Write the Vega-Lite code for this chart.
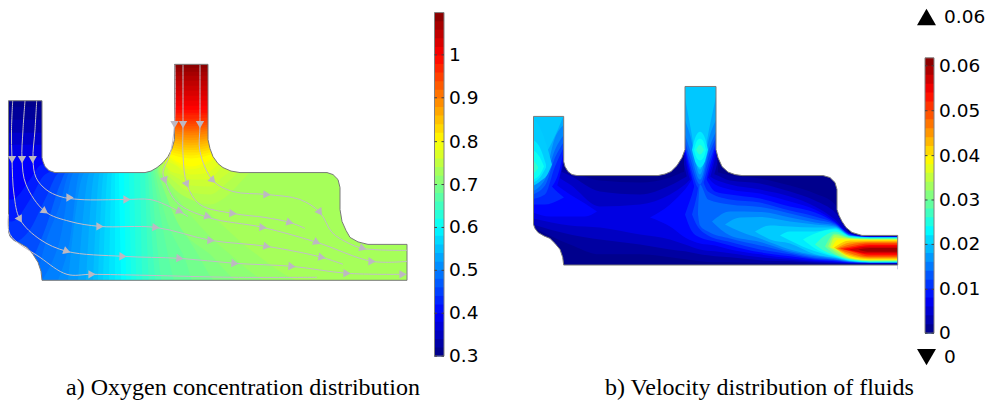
{"$schema":"https://vega.github.io/schema/vega-lite/v6.json","width":991,"height":400,"padding":0,"autosize":{"type":"fit","contains":"padding"},"background":"white","config":{"view":{"stroke":null},"text":{"font":"DejaVu Sans"}},
"datasets":{
"fieldA":[
{"v":0.31,"x":2,"y":60,"y2":292},{"v":0.31,"x":412,"y":60,"y2":292},
{"v":0.32,"x":2,"y":107,"y2":292},{"v":0.32,"x":412,"y":107,"y2":292},
{"v":0.34,"x":2,"y":120,"y2":292},{"v":0.34,"x":412,"y":120,"y2":292},
{"v":0.36,"x":2,"y":133,"y2":292},{"v":0.36,"x":412,"y":133,"y2":292},
{"v":0.38,"x":2,"y":145,"y2":292},{"v":0.38,"x":412,"y":145,"y2":292},
{"v":0.40,"x":2,"y":158,"y2":292},{"v":0.40,"x":412,"y":158,"y2":292},
{"v":0.42,"x":2,"y":200,"y2":292},{"v":0.42,"x":12,"y":200,"y2":292},{"v":0.42,"x":30,"y":180,"y2":292},{"v":0.42,"x":42,"y":165,"y2":292},{"v":0.42,"x":412,"y":165,"y2":292},
{"v":0.44,"x":2,"y":222,"y2":292},{"v":0.44,"x":12,"y":222,"y2":292},{"v":0.44,"x":30,"y":200,"y2":292},{"v":0.44,"x":45,"y":175,"y2":292},{"v":0.44,"x":60,"y":170,"y2":292},{"v":0.44,"x":412,"y":170,"y2":292},
{"v":0.46,"x":2,"y":243,"y2":292},{"v":0.46,"x":12,"y":243,"y2":292},{"v":0.46,"x":30,"y":230,"y2":292},{"v":0.46,"x":45,"y":200,"y2":292},{"v":0.46,"x":60,"y":173,"y2":292},{"v":0.46,"x":412,"y":173,"y2":292},
{"v":0.48,"x":2,"y":265,"y2":292},{"v":0.48,"x":12,"y":265,"y2":292},{"v":0.48,"x":30,"y":260,"y2":292},{"v":0.48,"x":45,"y":230,"y2":292},{"v":0.48,"x":60,"y":185,"y2":292},{"v":0.48,"x":66,"y":173,"y2":292},{"v":0.48,"x":412,"y":173,"y2":292},
{"v":0.49,"x":36,"y":281,"y2":292},{"v":0.49,"x":45,"y":245,"y2":292},{"v":0.49,"x":60,"y":205,"y2":292},{"v":0.49,"x":70,"y":173,"y2":292},{"v":0.49,"x":412,"y":173,"y2":292},
{"v":0.50,"x":42,"y":281,"y2":292},{"v":0.50,"x":60,"y":240,"y2":292},{"v":0.50,"x":74,"y":173,"y2":292},{"v":0.50,"x":412,"y":173,"y2":292},
{"v":0.51,"x":58,"y":281,"y2":292},{"v":0.51,"x":70,"y":240,"y2":292},{"v":0.51,"x":80,"y":173,"y2":292},{"v":0.51,"x":412,"y":173,"y2":292},
{"v":0.52,"x":68,"y":281,"y2":292},{"v":0.52,"x":85,"y":173,"y2":292},{"v":0.52,"x":412,"y":173,"y2":292},
{"v":0.53,"x":78,"y":281,"y2":292},{"v":0.53,"x":90,"y":173,"y2":292},{"v":0.53,"x":412,"y":173,"y2":292},
{"v":0.54,"x":86,"y":281,"y2":292},{"v":0.54,"x":95,"y":173,"y2":292},{"v":0.54,"x":412,"y":173,"y2":292},
{"v":0.55,"x":93,"y":281,"y2":292},{"v":0.55,"x":100,"y":173,"y2":292},{"v":0.55,"x":412,"y":173,"y2":292},
{"v":0.56,"x":98,"y":281,"y2":292},{"v":0.56,"x":104,"y":173,"y2":292},{"v":0.56,"x":412,"y":173,"y2":292},
{"v":0.57,"x":103,"y":281,"y2":292},{"v":0.57,"x":108,"y":173,"y2":292},{"v":0.57,"x":412,"y":173,"y2":292},
{"v":0.58,"x":109,"y":281,"y2":292},{"v":0.58,"x":112,"y":173,"y2":292},{"v":0.58,"x":412,"y":173,"y2":292},
{"v":0.59,"x":115,"y":173,"y2":292},{"v":0.59,"x":412,"y":173,"y2":292},
{"v":0.60,"x":119,"y":135,"y2":173},{"v":0.60,"x":122,"y":135,"y2":292},{"v":0.60,"x":412,"y":135,"y2":292},
{"v":0.61,"x":124,"y":135,"y2":173},{"v":0.61,"x":127,"y":135,"y2":292},{"v":0.61,"x":412,"y":135,"y2":292},
{"v":0.62,"x":129,"y":135,"y2":173},{"v":0.62,"x":132,"y":135,"y2":292},{"v":0.62,"x":412,"y":135,"y2":292},
{"v":0.63,"x":134,"y":135,"y2":173},{"v":0.63,"x":137,"y":135,"y2":292},{"v":0.63,"x":412,"y":135,"y2":292},
{"v":0.64,"x":140,"y":135,"y2":173},{"v":0.64,"x":143,"y":135,"y2":292},{"v":0.64,"x":412,"y":135,"y2":292},
{"v":0.65,"x":145,"y":135,"y2":173},{"v":0.65,"x":150,"y":135,"y2":292},{"v":0.65,"x":412,"y":135,"y2":292},
{"v":0.66,"x":148,"y":135,"y2":173},{"v":0.66,"x":158,"y":135,"y2":292},{"v":0.66,"x":412,"y":135,"y2":292},
{"v":0.67,"x":151,"y":135,"y2":173},{"v":0.67,"x":165,"y":135,"y2":292},{"v":0.67,"x":412,"y":135,"y2":292},
{"v":0.68,"x":153,"y":135,"y2":173},{"v":0.68,"x":162,"y":135,"y2":225},{"v":0.68,"x":180,"y":135,"y2":292},{"v":0.68,"x":412,"y":135,"y2":292},
{"v":0.69,"x":155,"y":135,"y2":173},{"v":0.69,"x":165,"y":135,"y2":215},{"v":0.69,"x":185,"y":135,"y2":260},{"v":0.69,"x":198,"y":135,"y2":292},{"v":0.69,"x":412,"y":135,"y2":292},
{"v":0.70,"x":157,"y":135,"y2":173},{"v":0.70,"x":170,"y":135,"y2":205},{"v":0.70,"x":195,"y":135,"y2":250},{"v":0.70,"x":220,"y":135,"y2":285},{"v":0.70,"x":412,"y":135,"y2":292},
{"v":0.71,"x":158,"y":135,"y2":173},{"v":0.71,"x":177,"y":135,"y2":222},{"v":0.71,"x":210,"y":135,"y2":255},{"v":0.71,"x":245,"y":135,"y2":285},{"v":0.71,"x":412,"y":135,"y2":292},
{"v":0.72,"x":159,"y":135,"y2":173},{"v":0.72,"x":190,"y":135,"y2":215},{"v":0.72,"x":230,"y":135,"y2":255},{"v":0.72,"x":275,"y":135,"y2":285},{"v":0.72,"x":412,"y":135,"y2":292},
{"v":0.73,"x":160,"y":135,"y2":173},{"v":0.73,"x":200,"y":135,"y2":205},{"v":0.73,"x":250,"y":135,"y2":250},{"v":0.73,"x":310,"y":135,"y2":285},{"v":0.73,"x":412,"y":135,"y2":292},
{"v":0.74,"x":162,"y":60,"y2":173},{"v":0.74,"x":175,"y":60,"y2":190},{"v":0.74,"x":191,"y":60,"y2":200},{"v":0.74,"x":210,"y":60,"y2":205},{"v":0.74,"x":225,"y":60,"y2":198},{"v":0.74,"x":245,"y":60,"y2":178},{"v":0.74,"x":250,"y":60,"y2":173},
{"v":0.75,"x":165,"y":60,"y2":173},{"v":0.75,"x":178,"y":60,"y2":185},{"v":0.75,"x":191,"y":60,"y2":193},{"v":0.75,"x":210,"y":60,"y2":195},{"v":0.75,"x":225,"y":60,"y2":185},{"v":0.75,"x":238,"y":60,"y2":173},
{"v":0.76,"x":168,"y":60,"y2":173},{"v":0.76,"x":180,"y":60,"y2":180},{"v":0.76,"x":191,"y":60,"y2":186},{"v":0.76,"x":210,"y":60,"y2":187},{"v":0.76,"x":222,"y":60,"y2":178},{"v":0.76,"x":229,"y":60,"y2":173},
{"v":0.77,"x":165,"y":60,"y2":165},{"v":0.77,"x":171,"y":60,"y2":172},{"v":0.77,"x":181,"y":60,"y2":175},{"v":0.77,"x":191,"y":60,"y2":180},{"v":0.77,"x":205,"y":60,"y2":180},{"v":0.77,"x":218,"y":60,"y2":172},{"v":0.77,"x":222,"y":60,"y2":165},
{"v":0.78,"x":168,"y":60,"y2":162},{"v":0.78,"x":174,"y":60,"y2":165},{"v":0.78,"x":191,"y":60,"y2":175},{"v":0.78,"x":205,"y":60,"y2":174},{"v":0.78,"x":218,"y":60,"y2":165},
{"v":0.79,"x":168,"y":60,"y2":158},{"v":0.79,"x":191,"y":60,"y2":170},{"v":0.79,"x":214,"y":60,"y2":160},
{"v":0.80,"x":168,"y":60,"y2":156},{"v":0.80,"x":191,"y":60,"y2":167},{"v":0.80,"x":214,"y":60,"y2":158},
{"v":0.81,"x":168,"y":60,"y2":154},{"v":0.81,"x":191,"y":60,"y2":159},{"v":0.81,"x":214,"y":60,"y2":154},
{"v":0.82,"x":168,"y":60,"y2":151.5},{"v":0.82,"x":191,"y":60,"y2":156},{"v":0.82,"x":214,"y":60,"y2":151.5},
{"v":0.83,"x":168,"y":60,"y2":149},{"v":0.83,"x":191,"y":60,"y2":153},{"v":0.83,"x":214,"y":60,"y2":149},
{"v":0.84,"x":168,"y":60,"y2":146.5},{"v":0.84,"x":191,"y":60,"y2":150.5},{"v":0.84,"x":214,"y":60,"y2":146.5},
{"v":0.85,"x":168,"y":60,"y2":144},{"v":0.85,"x":191,"y":60,"y2":148},{"v":0.85,"x":214,"y":60,"y2":144},
{"v":0.86,"x":168,"y":60,"y2":141.5},{"v":0.86,"x":191,"y":60,"y2":145.5},{"v":0.86,"x":214,"y":60,"y2":141.5},
{"v":0.87,"x":168,"y":60,"y2":139},{"v":0.87,"x":191,"y":60,"y2":143},{"v":0.87,"x":214,"y":60,"y2":139},
{"v":0.88,"x":168,"y":60,"y2":137},{"v":0.88,"x":191,"y":60,"y2":140.5},{"v":0.88,"x":214,"y":60,"y2":137},
{"v":0.89,"x":168,"y":60,"y2":135},{"v":0.89,"x":191,"y":60,"y2":138},{"v":0.89,"x":214,"y":60,"y2":135},
{"v":0.90,"x":168,"y":60,"y2":132.5},{"v":0.90,"x":191,"y":60,"y2":135.5},{"v":0.90,"x":214,"y":60,"y2":132.5},
{"v":0.91,"x":168,"y":60,"y2":130},{"v":0.91,"x":191,"y":60,"y2":133},{"v":0.91,"x":214,"y":60,"y2":130},
{"v":0.92,"x":168,"y":60,"y2":128},{"v":0.92,"x":191,"y":60,"y2":131},{"v":0.92,"x":214,"y":60,"y2":128},
{"v":0.93,"x":168,"y":60,"y2":126},{"v":0.93,"x":191,"y":60,"y2":129},{"v":0.93,"x":214,"y":60,"y2":126},
{"v":0.94,"x":168,"y":60,"y2":124},{"v":0.94,"x":191,"y":60,"y2":126.5},{"v":0.94,"x":214,"y":60,"y2":124},
{"v":0.95,"x":168,"y":60,"y2":122},{"v":0.95,"x":191,"y":60,"y2":124},{"v":0.95,"x":214,"y":60,"y2":122},
{"v":0.96,"x":168,"y":60,"y2":119.5},{"v":0.96,"x":191,"y":60,"y2":121.5},{"v":0.96,"x":214,"y":60,"y2":119.5},
{"v":0.97,"x":168,"y":60,"y2":117},{"v":0.97,"x":191,"y":60,"y2":119},{"v":0.97,"x":214,"y":60,"y2":117},
{"v":0.98,"x":168,"y":60,"y2":115},{"v":0.98,"x":214,"y":60,"y2":115},
{"v":0.99,"x":168,"y":60,"y2":113},{"v":0.99,"x":214,"y":60,"y2":113},
{"v":0.9995,"x":168,"y":60,"y2":110},{"v":0.9995,"x":214,"y":60,"y2":110},
{"v":1.01,"x":168,"y":60,"y2":106},{"v":1.01,"x":214,"y":60,"y2":106},
{"v":1.02,"x":168,"y":60,"y2":101},{"v":1.02,"x":214,"y":60,"y2":101},
{"v":1.03,"x":168,"y":60,"y2":96},{"v":1.03,"x":214,"y":60,"y2":96},
{"v":1.04,"x":168,"y":60,"y2":91},{"v":1.04,"x":214,"y":60,"y2":91},
{"v":1.05,"x":168,"y":60,"y2":86},{"v":1.05,"x":214,"y":60,"y2":86},
{"v":1.06,"x":168,"y":60,"y2":81},{"v":1.06,"x":214,"y":60,"y2":81},
{"v":1.07,"x":168,"y":60,"y2":76},{"v":1.07,"x":214,"y":60,"y2":76},
{"v":1.08,"x":168,"y":60,"y2":72},{"v":1.08,"x":214,"y":60,"y2":72},
{"v":1.09,"x":168,"y":60,"y2":68},{"v":1.09,"x":214,"y":60,"y2":68}
],
"fieldB":[
{"v":0.0008,"x":525,"y":80,"y2":270},{"v":0.0008,"x":905,"y":80,"y2":270},
{"v":0.0019,"x":530,"y":110,"y2":200},{"v":0.0019,"x":555,"y":110,"y2":190},{"v":0.0019,"x":564,"y":110,"y2":168},
{"v":0.00191,"x":684,"y":80,"y2":178},{"v":0.00191,"x":718,"y":80,"y2":178},
{"v":0.002,"x":533,"y":160,"y2":228},{"v":0.002,"x":570,"y":172,"y2":245},{"v":0.002,"x":600,"y":181,"y2":255},{"v":0.002,"x":640,"y":183,"y2":255},{"v":0.002,"x":670,"y":178,"y2":258},{"v":0.002,"x":685,"y":172,"y2":260},{"v":0.002,"x":700,"y":170,"y2":262},{"v":0.002,"x":715,"y":172,"y2":263},{"v":0.002,"x":730,"y":176,"y2":263},{"v":0.002,"x":760,"y":179,"y2":264},{"v":0.002,"x":790,"y":186,"y2":264},{"v":0.002,"x":815,"y":194,"y2":264.5},{"v":0.002,"x":835,"y":205,"y2":264.7},{"v":0.002,"x":850,"y":233,"y2":264.7},{"v":0.002,"x":870,"y":236.5,"y2":264.8},{"v":0.002,"x":898,"y":236.5,"y2":264.8},
{"v":0.0039,"x":530,"y":110,"y2":200},{"v":0.0039,"x":555,"y":110,"y2":190},{"v":0.0039,"x":564,"y":110,"y2":162},
{"v":0.00391,"x":684,"y":80,"y2":165},{"v":0.00391,"x":690,"y":80,"y2":185},{"v":0.00391,"x":700,"y":80,"y2":190},{"v":0.00391,"x":710,"y":80,"y2":185},{"v":0.00391,"x":717,"y":80,"y2":165},
{"v":0.004,"x":533,"y":162,"y2":225},{"v":0.004,"x":570,"y":176,"y2":235},{"v":0.004,"x":600,"y":192,"y2":240},{"v":0.004,"x":640,"y":195,"y2":245},{"v":0.004,"x":670,"y":186,"y2":250},{"v":0.004,"x":685,"y":178,"y2":252},{"v":0.004,"x":700,"y":170,"y2":255},{"v":0.004,"x":715,"y":175,"y2":257},{"v":0.004,"x":730,"y":181,"y2":258},{"v":0.004,"x":760,"y":184,"y2":261},{"v":0.004,"x":790,"y":192,"y2":262},{"v":0.004,"x":815,"y":201,"y2":263.5},{"v":0.004,"x":835,"y":213,"y2":264},{"v":0.004,"x":850,"y":233.5,"y2":264.3},{"v":0.004,"x":870,"y":237,"y2":264.4},{"v":0.004,"x":898,"y":237,"y2":264.4},
{"v":0.0059,"x":530,"y":110,"y2":200},{"v":0.0059,"x":555,"y":110,"y2":190},{"v":0.0059,"x":564,"y":110,"y2":158},
{"v":0.00591,"x":684,"y":80,"y2":152},{"v":0.00591,"x":690,"y":80,"y2":180},{"v":0.00591,"x":700,"y":80,"y2":192},{"v":0.00591,"x":710,"y":80,"y2":178},{"v":0.00591,"x":717,"y":80,"y2":150},
{"v":0.006,"x":533,"y":164,"y2":219},{"v":0.006,"x":570,"y":185,"y2":226},{"v":0.006,"x":600,"y":207,"y2":228},{"v":0.006,"x":640,"y":205,"y2":235},{"v":0.006,"x":670,"y":195,"y2":240},{"v":0.006,"x":685,"y":185,"y2":245},{"v":0.006,"x":700,"y":172,"y2":250},{"v":0.006,"x":715,"y":180,"y2":252},{"v":0.006,"x":730,"y":185,"y2":254},{"v":0.006,"x":760,"y":190,"y2":258},{"v":0.006,"x":790,"y":197,"y2":260.5},{"v":0.006,"x":815,"y":207,"y2":262.5},{"v":0.006,"x":835,"y":220,"y2":263.4},{"v":0.006,"x":850,"y":234,"y2":263.6},{"v":0.006,"x":870,"y":237.2,"y2":263.8},{"v":0.006,"x":898,"y":237.2,"y2":263.8},
{"v":0.0079,"x":530,"y":110,"y2":200},{"v":0.0079,"x":555,"y":110,"y2":190},{"v":0.0079,"x":564,"y":110,"y2":155},
{"v":0.00791,"x":684,"y":80,"y2":148},{"v":0.00791,"x":690,"y":80,"y2":175},{"v":0.00791,"x":700,"y":80,"y2":195},{"v":0.00791,"x":710,"y":80,"y2":172},{"v":0.00791,"x":717,"y":80,"y2":145},
{"v":0.008,"x":533,"y":165,"y2":213},{"v":0.008,"x":550,"y":180,"y2":217},{"v":0.008,"x":570,"y":195,"y2":217},{"v":0.008,"x":585,"y":204,"y2":217},{"v":0.008,"x":597,"y":212,"y2":212},
{"v":0.00801,"x":650,"y":218,"y2":218},{"v":0.00801,"x":670,"y":205,"y2":227},{"v":0.00801,"x":685,"y":190,"y2":238},{"v":0.00801,"x":700,"y":172,"y2":244},{"v":0.00801,"x":715,"y":185,"y2":246},{"v":0.00801,"x":730,"y":190,"y2":250},{"v":0.00801,"x":760,"y":194,"y2":255},{"v":0.00801,"x":790,"y":202,"y2":259},{"v":0.00801,"x":815,"y":210,"y2":261.5},{"v":0.00801,"x":835,"y":222,"y2":262.5},{"v":0.00801,"x":850,"y":234.5,"y2":263.6},{"v":0.00801,"x":870,"y":237.3,"y2":263.7},{"v":0.00801,"x":898,"y":237.3,"y2":263.7},
{"v":0.0099,"x":530,"y":110,"y2":205},{"v":0.0099,"x":550,"y":110,"y2":190},{"v":0.0099,"x":558,"y":110,"y2":175},{"v":0.0099,"x":564,"y":110,"y2":150},
{"v":0.00991,"x":684,"y":80,"y2":145},{"v":0.00991,"x":690,"y":80,"y2":170},{"v":0.00991,"x":700,"y":80,"y2":200},{"v":0.00991,"x":710,"y":80,"y2":166},{"v":0.00991,"x":717,"y":80,"y2":142},
{"v":0.01,"x":533,"y":170,"y2":205},{"v":0.01,"x":545,"y":180,"y2":205},{"v":0.01,"x":558,"y":193,"y2":201},{"v":0.01,"x":564,"y":198,"y2":198},
{"v":0.01001,"x":685,"y":215,"y2":215},{"v":0.01001,"x":692,"y":195,"y2":232},{"v":0.01001,"x":700,"y":173,"y2":238},{"v":0.01001,"x":715,"y":192,"y2":242},{"v":0.01001,"x":730,"y":195,"y2":246},{"v":0.01001,"x":760,"y":199,"y2":253},{"v":0.01001,"x":790,"y":207,"y2":257},{"v":0.01001,"x":815,"y":213,"y2":260.5},{"v":0.01001,"x":835,"y":223,"y2":262},{"v":0.01001,"x":850,"y":235,"y2":263.2},{"v":0.01001,"x":870,"y":237.5,"y2":263.5},{"v":0.01001,"x":898,"y":237.5,"y2":263.5},
{"v":0.0119,"x":530,"y":110,"y2":200},{"v":0.0119,"x":545,"y":110,"y2":195},{"v":0.0119,"x":555,"y":110,"y2":167},{"v":0.0119,"x":564,"y":110,"y2":147},
{"v":0.01191,"x":684,"y":80,"y2":142},{"v":0.01191,"x":690,"y":80,"y2":165},{"v":0.01191,"x":700,"y":80,"y2":190},{"v":0.01191,"x":710,"y":80,"y2":160},{"v":0.01191,"x":717,"y":80,"y2":140},
{"v":0.012,"x":692,"y":215,"y2":215},{"v":0.012,"x":697,"y":195,"y2":226},{"v":0.012,"x":700,"y":178,"y2":230},{"v":0.012,"x":708,"y":192,"y2":236},{"v":0.012,"x":730,"y":200,"y2":242.5},{"v":0.012,"x":760,"y":203,"y2":250},{"v":0.012,"x":790,"y":211,"y2":255},{"v":0.012,"x":815,"y":217,"y2":259.5},{"v":0.012,"x":835,"y":224,"y2":261},{"v":0.012,"x":850,"y":235,"y2":263},{"v":0.012,"x":870,"y":237.6,"y2":263.4},{"v":0.012,"x":898,"y":237.6,"y2":263.4},
{"v":0.0139,"x":530,"y":110,"y2":196},{"v":0.0139,"x":545,"y":110,"y2":186},{"v":0.0139,"x":555,"y":110,"y2":158},{"v":0.0139,"x":564,"y":110,"y2":142},
{"v":0.01391,"x":684,"y":80,"y2":138},{"v":0.01391,"x":690,"y":80,"y2":158},{"v":0.01391,"x":700,"y":80,"y2":185},{"v":0.01391,"x":710,"y":80,"y2":152},{"v":0.01391,"x":717,"y":80,"y2":136},
{"v":0.014,"x":698,"y":215,"y2":215},{"v":0.014,"x":700,"y":185,"y2":226},{"v":0.014,"x":708,"y":200,"y2":232},{"v":0.014,"x":730,"y":205,"y2":239},{"v":0.014,"x":760,"y":207.5,"y2":246},{"v":0.014,"x":790,"y":214,"y2":253.5},{"v":0.014,"x":815,"y":220,"y2":258.5},{"v":0.014,"x":835,"y":225,"y2":260.5},{"v":0.014,"x":850,"y":235.5,"y2":262.7},{"v":0.014,"x":870,"y":237.7,"y2":263.2},{"v":0.014,"x":898,"y":237.7,"y2":263.2},
{"v":0.0159,"x":530,"y":110,"y2":193},{"v":0.0159,"x":545,"y":110,"y2":180},{"v":0.0159,"x":555,"y":110,"y2":150},{"v":0.0159,"x":564,"y":110,"y2":135},
{"v":0.01591,"x":684,"y":80,"y2":132},{"v":0.01591,"x":690,"y":80,"y2":150},{"v":0.01591,"x":700,"y":80,"y2":180},{"v":0.01591,"x":710,"y":80,"y2":146},{"v":0.01591,"x":717,"y":80,"y2":130},
{"v":0.016,"x":712,"y":222,"y2":222},{"v":0.016,"x":730,"y":212,"y2":236},{"v":0.016,"x":760,"y":212.5,"y2":242.5},{"v":0.016,"x":790,"y":218,"y2":252},{"v":0.016,"x":815,"y":223,"y2":257},{"v":0.016,"x":835,"y":226,"y2":260},{"v":0.016,"x":850,"y":236,"y2":262.3},{"v":0.016,"x":870,"y":237.8,"y2":263.2},{"v":0.016,"x":898,"y":237.8,"y2":263.2},
{"v":0.0179,"x":530,"y":110,"y2":188},{"v":0.0179,"x":545,"y":110,"y2":175},{"v":0.0179,"x":555,"y":110,"y2":138},{"v":0.0179,"x":564,"y":110,"y2":125},
{"v":0.01791,"x":684,"y":80,"y2":118},{"v":0.01791,"x":690,"y":80,"y2":135},{"v":0.01791,"x":700,"y":80,"y2":175},{"v":0.01791,"x":710,"y":80,"y2":135},{"v":0.01791,"x":717,"y":80,"y2":118},
{"v":0.018,"x":725,"y":225,"y2":225},{"v":0.018,"x":740,"y":218,"y2":232},{"v":0.018,"x":760,"y":217.5,"y2":239},{"v":0.018,"x":790,"y":222,"y2":250},{"v":0.018,"x":815,"y":225,"y2":256},{"v":0.018,"x":835,"y":227,"y2":259},{"v":0.018,"x":850,"y":236.3,"y2":262},{"v":0.018,"x":870,"y":238,"y2":263},{"v":0.018,"x":898,"y":238,"y2":263},
{"v":0.0198,"x":530,"y":110,"y2":170},{"v":0.0198,"x":548,"y":110,"y2":150},{"v":0.0198,"x":564,"y":110,"y2":115},
{"v":0.01981,"x":684,"y":80,"y2":92},{"v":0.01981,"x":690,"y":80,"y2":125},{"v":0.01981,"x":700,"y":80,"y2":170},{"v":0.01981,"x":710,"y":80,"y2":125},{"v":0.01981,"x":717,"y":80,"y2":92},
{"v":0.02,"x":755,"y":232,"y2":232},{"v":0.02,"x":770,"y":226,"y2":240},{"v":0.02,"x":790,"y":227,"y2":244},{"v":0.02,"x":815,"y":228,"y2":255},{"v":0.02,"x":835,"y":228,"y2":258.5},{"v":0.02,"x":850,"y":236.5,"y2":261.7},{"v":0.02,"x":870,"y":238,"y2":263},{"v":0.02,"x":898,"y":238,"y2":263},
{"v":0.0201,"x":533,"y":118,"y2":186},{"v":0.0201,"x":540,"y":128,"y2":182},{"v":0.0201,"x":548,"y":150,"y2":174},{"v":0.0201,"x":552,"y":165,"y2":165},
{"v":0.0219,"x":533,"y":140,"y2":183},{"v":0.0219,"x":540,"y":148,"y2":178},{"v":0.0219,"x":546,"y":165,"y2":168},
{"v":0.02191,"x":692,"y":150,"y2":150},{"v":0.02191,"x":696,"y":136,"y2":164},{"v":0.02191,"x":700,"y":132,"y2":168},{"v":0.02191,"x":704,"y":136,"y2":164},{"v":0.02191,"x":708,"y":150,"y2":150},
{"v":0.022,"x":780,"y":236,"y2":236},{"v":0.022,"x":790,"y":232,"y2":241},{"v":0.022,"x":815,"y":232,"y2":252},{"v":0.022,"x":835,"y":229,"y2":257.7},{"v":0.022,"x":850,"y":236.8,"y2":261.3},{"v":0.022,"x":870,"y":238.2,"y2":262.8},{"v":0.022,"x":898,"y":238.2,"y2":262.8},
{"v":0.0239,"x":533,"y":150,"y2":180},{"v":0.0239,"x":540,"y":158,"y2":175},{"v":0.0239,"x":544,"y":167,"y2":167},
{"v":0.02391,"x":694,"y":150,"y2":150},{"v":0.02391,"x":697,"y":141,"y2":159},{"v":0.02391,"x":700,"y":139,"y2":161},{"v":0.02391,"x":703,"y":141,"y2":159},{"v":0.02391,"x":706,"y":150,"y2":150},
{"v":0.024,"x":803,"y":240,"y2":240},{"v":0.024,"x":815,"y":234,"y2":249},{"v":0.024,"x":835,"y":230,"y2":257},{"v":0.024,"x":850,"y":237,"y2":261},{"v":0.024,"x":870,"y":238.5,"y2":262.5},{"v":0.024,"x":898,"y":238.5,"y2":262.5},
{"v":0.026,"x":533,"y":160,"y2":175},{"v":0.026,"x":538,"y":167,"y2":169},
{"v":0.02601,"x":696,"y":150,"y2":150},{"v":0.02601,"x":700,"y":145,"y2":155},{"v":0.02601,"x":704,"y":150,"y2":150},
{"v":0.027,"x":815,"y":245,"y2":245},{"v":0.027,"x":825,"y":236,"y2":252},{"v":0.027,"x":835,"y":232,"y2":256},{"v":0.027,"x":850,"y":237.5,"y2":260.5},{"v":0.027,"x":870,"y":238.8,"y2":262.2},{"v":0.027,"x":898,"y":238.8,"y2":262.2},
{"v":0.03,"x":825,"y":247,"y2":247},{"v":0.03,"x":835,"y":234,"y2":255},{"v":0.03,"x":850,"y":238.3,"y2":260},{"v":0.03,"x":870,"y":239.2,"y2":261.8},{"v":0.03,"x":898,"y":239.2,"y2":261.8},
{"v":0.033,"x":828,"y":247,"y2":247},{"v":0.033,"x":835,"y":235.5,"y2":252.5},{"v":0.033,"x":850,"y":238.8,"y2":259.5},{"v":0.033,"x":870,"y":239.6,"y2":261.4},{"v":0.033,"x":898,"y":239.6,"y2":261.4},
{"v":0.036,"x":830,"y":248,"y2":248},{"v":0.036,"x":835,"y":238,"y2":250},{"v":0.036,"x":850,"y":239.3,"y2":258.8},{"v":0.036,"x":870,"y":240,"y2":261},{"v":0.036,"x":898,"y":240,"y2":261},
{"v":0.039,"x":832,"y":248,"y2":248},{"v":0.039,"x":838,"y":240,"y2":250},{"v":0.039,"x":850,"y":240,"y2":258.3},{"v":0.039,"x":870,"y":240.6,"y2":260.4},{"v":0.039,"x":898,"y":240.6,"y2":260.4},
{"v":0.042,"x":834,"y":248,"y2":248},{"v":0.042,"x":850,"y":241,"y2":257},{"v":0.042,"x":870,"y":241,"y2":260},{"v":0.042,"x":898,"y":241,"y2":260},
{"v":0.045,"x":836,"y":249,"y2":249},{"v":0.045,"x":850,"y":243,"y2":255.5},{"v":0.045,"x":870,"y":242,"y2":259},{"v":0.045,"x":898,"y":242,"y2":259},
{"v":0.048,"x":838,"y":249,"y2":249},{"v":0.048,"x":850,"y":245,"y2":254},{"v":0.048,"x":870,"y":243,"y2":258},{"v":0.048,"x":898,"y":243,"y2":258},
{"v":0.051,"x":840,"y":249,"y2":249},{"v":0.051,"x":850,"y":247,"y2":252},{"v":0.051,"x":870,"y":244,"y2":257},{"v":0.051,"x":898,"y":244,"y2":257},
{"v":0.054,"x":843,"y":249.5,"y2":249.5},{"v":0.054,"x":855,"y":247.5,"y2":252.5},{"v":0.054,"x":870,"y":245.5,"y2":255.5},{"v":0.054,"x":898,"y":245.5,"y2":255.5},
{"v":0.057,"x":849,"y":250,"y2":250},{"v":0.057,"x":870,"y":247,"y2":254},{"v":0.057,"x":898,"y":247,"y2":254},
{"v":0.06,"x":858,"y":250,"y2":250},{"v":0.06,"x":870,"y":248.5,"y2":252.5},{"v":0.06,"x":898,"y":248.5,"y2":252.5}
],
"mask":[
{"s":"at","x":0,"y":50,"y2":296},{"s":"at","x":8.49,"y":50,"y2":296},{"s":"at","x":8.5,"y":50,"y2":101},{"s":"at","x":42,"y":50,"y2":101},{"s":"at","x":42.01,"y":50,"y2":158},{"s":"at","x":43,"y":50,"y2":162},{"s":"at","x":45,"y":50,"y2":167},{"s":"at","x":49,"y":50,"y2":171},{"s":"at","x":55,"y":50,"y2":173},{"s":"at","x":145,"y":50,"y2":173},{"s":"at","x":151,"y":50,"y2":171.5},{"s":"at","x":157,"y":50,"y2":168},{"s":"at","x":163,"y":50,"y2":163},{"s":"at","x":168,"y":50,"y2":157},{"s":"at","x":172,"y":50,"y2":149},{"s":"at","x":174.5,"y":50,"y2":140},{"s":"at","x":174.51,"y":50,"y2":64.5},{"s":"at","x":208,"y":50,"y2":64.5},{"s":"at","x":208.01,"y":50,"y2":140},{"s":"at","x":210,"y":50,"y2":149},{"s":"at","x":213,"y":50,"y2":157},{"s":"at","x":218,"y":50,"y2":164},{"s":"at","x":223,"y":50,"y2":168},{"s":"at","x":231,"y":50,"y2":171.5},{"s":"at","x":240,"y":50,"y2":173},{"s":"at","x":327,"y":50,"y2":173},{"s":"at","x":333,"y":50,"y2":175},{"s":"at","x":338,"y":50,"y2":180},{"s":"at","x":340,"y":50,"y2":188},{"s":"at","x":340.01,"y":50,"y2":210},{"s":"at","x":342,"y":50,"y2":222},{"s":"at","x":346,"y":50,"y2":231},{"s":"at","x":350,"y":50,"y2":238},{"s":"at","x":358,"y":50,"y2":242.5},{"s":"at","x":368,"y":50,"y2":245},{"s":"at","x":407,"y":50,"y2":245},{"s":"at","x":407.01,"y":50,"y2":296},{"s":"at","x":416,"y":50,"y2":296},
{"s":"ab","x":8,"y":232,"y2":296},{"s":"ab","x":8.5,"y":232,"y2":296},{"s":"ab","x":10,"y":237,"y2":296},{"s":"ab","x":14,"y":241,"y2":296},{"s":"ab","x":20,"y":244,"y2":296},{"s":"ab","x":27,"y":248,"y2":296},{"s":"ab","x":33,"y":255,"y2":296},{"s":"ab","x":38,"y":263,"y2":296},{"s":"ab","x":41,"y":272,"y2":296},{"s":"ab","x":42,"y":281,"y2":296},{"s":"ab","x":407,"y":281,"y2":296},
{"s":"bt","x":520,"y":70,"y2":285},{"s":"bt","x":533.49,"y":70,"y2":285},{"s":"bt","x":533.5,"y":70,"y2":116.7},{"s":"bt","x":563.7,"y":70,"y2":116.7},{"s":"bt","x":563.71,"y":70,"y2":162},{"s":"bt","x":565,"y":70,"y2":167},{"s":"bt","x":568,"y":70,"y2":172},{"s":"bt","x":572,"y":70,"y2":175},{"s":"bt","x":577,"y":70,"y2":176},{"s":"bt","x":658,"y":70,"y2":176},{"s":"bt","x":665,"y":70,"y2":174.5},{"s":"bt","x":671,"y":70,"y2":172},{"s":"bt","x":677,"y":70,"y2":166},{"s":"bt","x":682,"y":70,"y2":158},{"s":"bt","x":685,"y":70,"y2":150},{"s":"bt","x":685.01,"y":70,"y2":86.7},{"s":"bt","x":716,"y":70,"y2":86.7},{"s":"bt","x":716.01,"y":70,"y2":150},{"s":"bt","x":718,"y":70,"y2":158},{"s":"bt","x":722,"y":70,"y2":167},{"s":"bt","x":728,"y":70,"y2":172.5},{"s":"bt","x":735,"y":70,"y2":175},{"s":"bt","x":742,"y":70,"y2":176},{"s":"bt","x":823,"y":70,"y2":176},{"s":"bt","x":830,"y":70,"y2":178},{"s":"bt","x":835,"y":70,"y2":183},{"s":"bt","x":837,"y":70,"y2":190},{"s":"bt","x":837.01,"y":70,"y2":210},{"s":"bt","x":839,"y":70,"y2":216},{"s":"bt","x":842,"y":70,"y2":222},{"s":"bt","x":846,"y":70,"y2":228},{"s":"bt","x":852,"y":70,"y2":233},{"s":"bt","x":862,"y":70,"y2":236},{"s":"bt","x":897.7,"y":70,"y2":236},{"s":"bt","x":897.71,"y":70,"y2":285},{"s":"bt","x":908,"y":70,"y2":285},
{"s":"bb","x":533,"y":225,"y2":285},{"s":"bb","x":533.5,"y":225,"y2":285},{"s":"bb","x":535,"y":229,"y2":285},{"s":"bb","x":538,"y":233,"y2":285},{"s":"bb","x":544,"y":236.5,"y2":285},{"s":"bb","x":550,"y":239,"y2":285},{"s":"bb","x":555,"y":244,"y2":285},{"s":"bb","x":560,"y":250,"y2":285},{"s":"bb","x":562.7,"y":258,"y2":285},{"s":"bb","x":563.7,"y":265.7,"y2":285},{"s":"bb","x":897.7,"y":265.7,"y2":285}
],
"walls":[{"x":8.5,"y":101,"y2":232},{"x":407,"y":245,"y2":281},{"x":533.5,"y":116.7,"y2":225},{"x":897.7,"y":236,"y2":265.7}],
"stream":[
{"s":1,"i":1,"x":36.7,"y":101},{"s":1,"i":2,"x":35,"y":130},{"s":1,"i":3,"x":33,"y":160},{"s":1,"i":4,"x":36,"y":178},{"s":1,"i":5,"x":46,"y":190},{"s":1,"i":6,"x":60,"y":197},{"s":1,"i":7,"x":80,"y":200},{"s":1,"i":8,"x":125,"y":200},{"s":1,"i":9,"x":150,"y":200},{"s":1,"i":10,"x":165,"y":205},{"s":1,"i":11,"x":188,"y":217},
{"s":2,"i":1,"x":25,"y":101},{"s":2,"i":2,"x":23,"y":130},{"s":2,"i":3,"x":22,"y":160},{"s":2,"i":4,"x":26,"y":185},{"s":2,"i":5,"x":45,"y":212},{"s":2,"i":6,"x":70,"y":222},{"s":2,"i":7,"x":100,"y":227},{"s":2,"i":8,"x":156,"y":228},{"s":2,"i":9,"x":211,"y":241},{"s":2,"i":10,"x":267,"y":247},{"s":2,"i":11,"x":322,"y":258},{"s":2,"i":12,"x":343,"y":265},
{"s":3,"i":1,"x":12.7,"y":101},{"s":3,"i":2,"x":11.5,"y":130},{"s":3,"i":3,"x":12,"y":160},{"s":3,"i":4,"x":14,"y":195},{"s":3,"i":5,"x":20,"y":220},{"s":3,"i":6,"x":40,"y":240},{"s":3,"i":7,"x":67,"y":252},{"s":3,"i":8,"x":123,"y":257},{"s":3,"i":9,"x":180,"y":259},{"s":3,"i":10,"x":235,"y":264},{"s":3,"i":11,"x":292,"y":267},{"s":3,"i":12,"x":347,"y":274},{"s":3,"i":13,"x":403,"y":275},
{"s":4,"i":1,"x":8.5,"y":215},{"s":4,"i":2,"x":10,"y":235},{"s":4,"i":3,"x":40,"y":258},{"s":4,"i":4,"x":67,"y":275},{"s":4,"i":5,"x":92,"y":275},{"s":4,"i":6,"x":147,"y":276},{"s":4,"i":7,"x":233,"y":278},{"s":4,"i":8,"x":317,"y":278},
{"s":5,"i":1,"x":183,"y":65},{"s":5,"i":2,"x":183,"y":125},{"s":5,"i":3,"x":183,"y":155},{"s":5,"i":4,"x":187,"y":185},{"s":5,"i":5,"x":200,"y":205},{"s":5,"i":6,"x":233,"y":214},{"s":5,"i":7,"x":265,"y":218},{"s":5,"i":8,"x":290,"y":223},{"s":5,"i":9,"x":305,"y":229},
{"s":6,"i":1,"x":200,"y":65},{"s":6,"i":2,"x":200,"y":125},{"s":6,"i":3,"x":200,"y":152},{"s":6,"i":4,"x":213,"y":181},{"s":6,"i":5,"x":233,"y":192},{"s":6,"i":6,"x":267,"y":195},{"s":6,"i":7,"x":300,"y":200},{"s":6,"i":8,"x":320,"y":213},{"s":6,"i":9,"x":332,"y":233},{"s":6,"i":10,"x":347,"y":243},{"s":6,"i":11,"x":363,"y":249},{"s":6,"i":12,"x":407,"y":251},
{"s":7,"i":1,"x":175,"y":65},{"s":7,"i":2,"x":174.5,"y":125},{"s":7,"i":3,"x":170,"y":155},{"s":7,"i":4,"x":163,"y":172},{"s":7,"i":5,"x":165,"y":181},{"s":7,"i":6,"x":177,"y":203},{"s":7,"i":7,"x":208,"y":218},{"s":7,"i":8,"x":263,"y":228},{"s":7,"i":9,"x":317,"y":243},{"s":7,"i":10,"x":372,"y":262},{"s":7,"i":11,"x":407,"y":262}
],
"arrows":[
{"x":32.7,"y":160,"a":180},{"x":70,"y":198,"a":90},{"x":127,"y":200,"a":90},{"x":180,"y":212,"a":115},
{"x":22,"y":160,"a":180},{"x":45,"y":212,"a":125},{"x":100,"y":227,"a":90},{"x":156,"y":228,"a":95},{"x":211,"y":241,"a":95},{"x":267,"y":247,"a":100},{"x":322,"y":258,"a":100},
{"x":12,"y":160,"a":180},{"x":20,"y":220,"a":150},{"x":67,"y":252,"a":110},{"x":123,"y":257,"a":92},{"x":180,"y":259,"a":95},{"x":235,"y":264,"a":95},{"x":292,"y":267,"a":95},{"x":347,"y":274,"a":92},{"x":403,"y":275,"a":90},
{"x":92,"y":275,"a":90},{"x":183,"y":125,"a":180},{"x":187,"y":185,"a":155},{"x":208,"y":217,"a":105},{"x":233,"y":214,"a":95},{"x":290,"y":223,"a":105},
{"x":200,"y":125,"a":180},{"x":213,"y":181,"a":135},{"x":267,"y":195,"a":92},{"x":320,"y":213,"a":145},{"x":363,"y":249,"a":110},
{"x":174.5,"y":125,"a":180},{"x":165,"y":181,"a":160},{"x":263,"y":228,"a":95},{"x":317,"y":243,"a":115},{"x":372,"y":262,"a":92}
],
"barA":[{"v":1.09,"y":12.6},{"v":1.07,"y":21.2},{"v":1.05,"y":29.8},{"v":1.03,"y":38.4},{"v":1.01,"y":47},{"v":0.99,"y":55.6},{"v":0.97,"y":64.2},{"v":0.95,"y":72.8},{"v":0.93,"y":81.4},{"v":0.91,"y":90},{"v":0.89,"y":98.7},{"v":0.87,"y":107.3},{"v":0.85,"y":115.9},{"v":0.83,"y":124.5},{"v":0.81,"y":133.1},{"v":0.79,"y":141.7},{"v":0.77,"y":150.3},{"v":0.75,"y":158.9},{"v":0.73,"y":167.5},{"v":0.71,"y":176.2},{"v":0.69,"y":184.8},{"v":0.67,"y":193.4},{"v":0.65,"y":202},{"v":0.63,"y":210.6},{"v":0.61,"y":219.2},{"v":0.59,"y":227.8},{"v":0.57,"y":236.4},{"v":0.55,"y":245},{"v":0.53,"y":253.7},{"v":0.51,"y":262.3},{"v":0.49,"y":270.9},{"v":0.47,"y":279.5},{"v":0.45,"y":288.1},{"v":0.43,"y":296.7},{"v":0.41,"y":305.3},{"v":0.39,"y":313.9},{"v":0.37,"y":322.6},{"v":0.35,"y":331.2},{"v":0.33,"y":339.8},{"v":0.31,"y":348.4}],
"barB":[{"v":0.061,"y":58},{"v":0.059,"y":66},{"v":0.057,"y":75},{"v":0.055,"y":83.9},{"v":0.053,"y":92.8},{"v":0.051,"y":101.8},{"v":0.049,"y":110.7},{"v":0.047,"y":119.6},{"v":0.045,"y":128.6},{"v":0.043,"y":137.5},{"v":0.041,"y":146.4},{"v":0.039,"y":155.4},{"v":0.037,"y":164.3},{"v":0.035,"y":173.2},{"v":0.033,"y":182.2},{"v":0.031,"y":191.1},{"v":0.029,"y":200},{"v":0.027,"y":209},{"v":0.025,"y":217.9},{"v":0.023,"y":226.8},{"v":0.021,"y":235.8},{"v":0.019,"y":244.7},{"v":0.017,"y":253.6},{"v":0.015,"y":262.5},{"v":0.013,"y":271.5},{"v":0.011,"y":280.4},{"v":0.009,"y":289.3},{"v":0.007,"y":298.3},{"v":0.005,"y":307.2},{"v":0.003,"y":316.1},{"v":0.001,"y":325.1}],
"ticksA":[{"x":449,"y":55,"t":"1"},{"x":449,"y":98,"t":"0.9"},{"x":449,"y":142,"t":"0.8"},{"x":449,"y":185,"t":"0.7"},{"x":449,"y":228,"t":"0.6"},{"x":449,"y":271,"t":"0.5"},{"x":449,"y":314,"t":"0.4"},{"x":449,"y":357,"t":"0.3"}],
"ticksB":[{"x":939,"y":66,"t":"0.06"},{"x":939,"y":111,"t":"0.05"},{"x":939,"y":156,"t":"0.04"},{"x":939,"y":200.5,"t":"0.03"},{"x":939,"y":245,"t":"0.02"},{"x":939,"y":290,"t":"0.01"},{"x":939,"y":334,"t":"0"}],
"extras":[{"x":944,"y":17,"t":"0.06"},{"x":944,"y":358,"t":"0"}],
"tris":[{"x":926.5,"y":17,"a":0},{"x":926.5,"y":358,"a":180}],
"caps":[{"x":66,"y":389,"t":"a) Oxygen concentration distribution"},{"x":605,"y":389,"t":"b) Velocity distribution of fluids"}],
"frames":[{"x":434.5,"x2":444,"y":12.6,"y2":357},{"x":925,"x2":934,"y":58,"y2":334}]
},
"encoding":{
"x":{"type":"quantitative","scale":{"domain":[0,991],"nice":false,"zero":false},"axis":null},
"y":{"type":"quantitative","scale":{"domain":[400,0],"nice":false,"zero":false},"axis":null}
},
"resolve":{"scale":{"color":"independent"}},
"layer":[
{"data":{"name":"fieldA"},"mark":{"type":"area","interpolate":"monotone"},"encoding":{"x":{"field":"x","type":"quantitative"},"y":{"field":"y","type":"quantitative"},"y2":{"field":"y2"},"detail":{"field":"v"},"color":{"field":"v","type":"quantitative","legend":null,"scale":{"domain":[0.3,0.4,0.5,0.6,0.7,0.8,0.9,1.0,1.1],"range":["#000080","#0000ff","#0080ff","#00ffff","#80ff80","#ffff00","#ff8000","#ff0000","#800000"],"interpolate":"rgb"}}}},
{"data":{"name":"fieldB"},"mark":{"type":"area","interpolate":"monotone"},"encoding":{"x":{"field":"x","type":"quantitative"},"y":{"field":"y","type":"quantitative"},"y2":{"field":"y2"},"detail":{"field":"v"},"color":{"field":"v","type":"quantitative","legend":null,"scale":{"domain":[0,0.00773,0.01545,0.02318,0.0309,0.03863,0.04635,0.05408,0.0618],"range":["#000080","#0000ff","#0080ff","#00ffff","#80ff80","#ffff00","#ff8000","#ff0000","#800000"],"interpolate":"rgb"}}}},
{"data":{"name":"mask"},"mark":{"type":"area","color":"white"},"encoding":{"x":{"field":"x","type":"quantitative"},"y":{"field":"y","type":"quantitative"},"y2":{"field":"y2"},"detail":{"field":"s"}}},
{"data":{"name":"mask"},"transform":[{"filter":"(datum.s=='at'||datum.s=='bt')&&datum.y2<280"}],"mark":{"type":"line","color":"#7a7a7a","strokeWidth":1},"encoding":{"x":{"field":"x","type":"quantitative"},"y":{"field":"y2","type":"quantitative"},"detail":{"field":"s"}}},
{"data":{"name":"mask"},"transform":[{"filter":"datum.s=='ab'||datum.s=='bb'"}],"mark":{"type":"line","color":"#7a7a7a","strokeWidth":1},"encoding":{"x":{"field":"x","type":"quantitative"},"y":{"field":"y","type":"quantitative"},"detail":{"field":"s"}}},
{"data":{"name":"walls"},"mark":{"type":"rule","color":"#7a7a7a","strokeWidth":1},"encoding":{"x":{"field":"x","type":"quantitative"},"y":{"field":"y","type":"quantitative"},"y2":{"field":"y2"}}},
{"data":{"name":"stream"},"mark":{"type":"line","color":"#c3bec8","strokeWidth":1,"interpolate":"catmull-rom"},"encoding":{"x":{"field":"x","type":"quantitative"},"y":{"field":"y","type":"quantitative"},"detail":{"field":"s"},"order":{"field":"i","type":"quantitative"}}},
{"data":{"name":"arrows"},"mark":{"type":"point","shape":"triangle-up","filled":true,"color":"#bdb8c2","opacity":1,"size":70},"encoding":{"x":{"field":"x","type":"quantitative"},"y":{"field":"y","type":"quantitative"},"angle":{"field":"a","type":"quantitative","scale":null}}},
{"data":{"name":"barA"},"mark":{"type":"rect"},"encoding":{"x":{"datum":434.5,"type":"quantitative"},"x2":{"datum":444},"y":{"field":"y","type":"quantitative"},"y2":{"datum":357},"color":{"field":"v","type":"quantitative","legend":null,"scale":{"domain":[0.3,0.4,0.5,0.6,0.7,0.8,0.9,1.0,1.1],"range":["#000080","#0000ff","#0080ff","#00ffff","#80ff80","#ffff00","#ff8000","#ff0000","#800000"],"interpolate":"rgb"}}}},
{"data":{"name":"barB"},"mark":{"type":"rect"},"encoding":{"x":{"datum":925,"type":"quantitative"},"x2":{"datum":934},"y":{"field":"y","type":"quantitative"},"y2":{"datum":334},"color":{"field":"v","type":"quantitative","legend":null,"scale":{"domain":[0,0.00773,0.01545,0.02318,0.0309,0.03863,0.04635,0.05408,0.0618],"range":["#000080","#0000ff","#0080ff","#00ffff","#80ff80","#ffff00","#ff8000","#ff0000","#800000"],"interpolate":"rgb"}}}},
{"data":{"name":"frames"},"mark":{"type":"rect","filled":false,"stroke":"#808080","strokeWidth":1},"encoding":{"x":{"field":"x","type":"quantitative"},"x2":{"field":"x2"},"y":{"field":"y","type":"quantitative"},"y2":{"field":"y2"}}},
{"data":{"name":"ticksA"},"mark":{"type":"rule","color":"#444","strokeWidth":1},"encoding":{"x":{"datum":434.5,"type":"quantitative"},"x2":{"datum":437},"y":{"field":"y","type":"quantitative"}}},
{"data":{"name":"ticksA"},"mark":{"type":"rule","color":"#444","strokeWidth":1},"encoding":{"x":{"datum":441.5,"type":"quantitative"},"x2":{"datum":444},"y":{"field":"y","type":"quantitative"}}},
{"data":{"name":"ticksB"},"mark":{"type":"rule","color":"#444","strokeWidth":1},"encoding":{"x":{"datum":925,"type":"quantitative"},"x2":{"datum":927.5},"y":{"field":"y","type":"quantitative"}}},
{"data":{"name":"ticksB"},"mark":{"type":"rule","color":"#444","strokeWidth":1},"encoding":{"x":{"datum":931.5,"type":"quantitative"},"x2":{"datum":934},"y":{"field":"y","type":"quantitative"}}},
{"data":{"name":"ticksA"},"mark":{"type":"text","align":"left","baseline":"middle","fontSize":18.5,"font":"DejaVu Sans","color":"black"},"encoding":{"x":{"field":"x","type":"quantitative"},"y":{"field":"y","type":"quantitative"},"text":{"field":"t"}}},
{"data":{"name":"ticksB"},"mark":{"type":"text","align":"left","baseline":"middle","fontSize":18.5,"font":"DejaVu Sans","color":"black"},"encoding":{"x":{"field":"x","type":"quantitative"},"y":{"field":"y","type":"quantitative"},"text":{"field":"t"}}},
{"data":{"name":"extras"},"mark":{"type":"text","align":"left","baseline":"middle","fontSize":18.5,"font":"DejaVu Sans","color":"black"},"encoding":{"x":{"field":"x","type":"quantitative"},"y":{"field":"y","type":"quantitative"},"text":{"field":"t"}}},
{"data":{"name":"tris"},"mark":{"type":"point","shape":"triangle-up","filled":true,"color":"black","opacity":1,"size":360},"encoding":{"x":{"field":"x","type":"quantitative"},"y":{"field":"y","type":"quantitative"},"angle":{"field":"a","type":"quantitative","scale":null}}},
{"data":{"name":"caps"},"mark":{"type":"text","align":"left","baseline":"middle","fontSize":24,"font":"Liberation Serif","color":"black"},"encoding":{"x":{"field":"x","type":"quantitative"},"y":{"field":"y","type":"quantitative"},"text":{"field":"t"}}}
]}
